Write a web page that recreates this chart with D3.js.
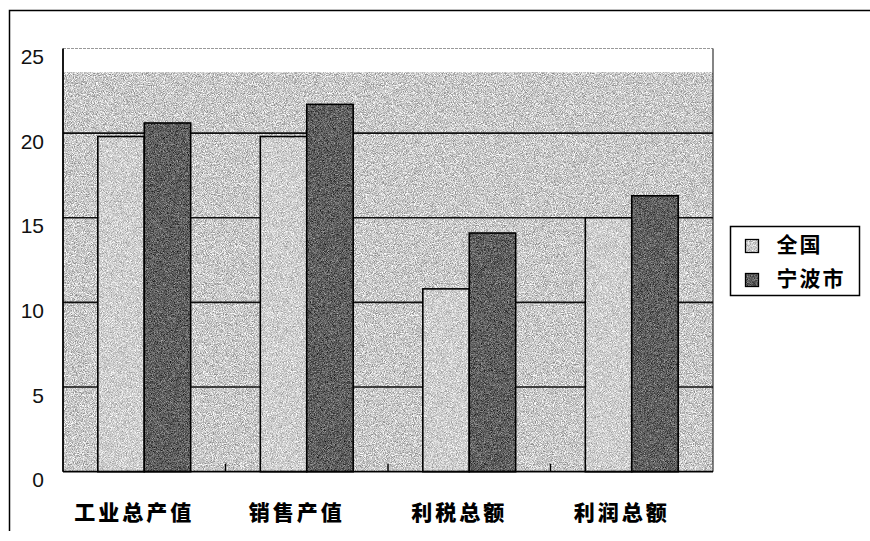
<!DOCTYPE html>
<html>
<head>
<meta charset="utf-8">
<script src="https://cdn.jsdelivr.net/npm/d3@7"></script>
<style>
  html, body { margin: 0; padding: 0; background: #fff; }
  svg { display: block; }
</style>
</head>
<body>
<svg id="chart" width="870" height="541"></svg>
<script>
// Data
const categories = ["工业总产值", "销售产值", "利税总额", "利润总额"];
const seriesNames = ["全国", "宁波市"];
const quanguo = [19.8, 19.8, 10.8, 15.0];
const ningbo = [20.6, 21.7, 14.1, 16.3];
const yTicks = [0, 5, 10, 15, 20, 25];

const seriesValues = [quanguo, ningbo];
const seriesFill = ["#cacaca", "#585858"];

const svg = d3.select("#chart");
const plot = { left: 63, right: 713, top: 48.5, bottom: 471.7 };

// Grain filter: fine fractal noise blended over the flat grey fills
const defs = svg.append("defs");
function grain(id, freq, slope, seed) {
  const f = defs.append("filter").attr("id", id)
    .attr("x", 0).attr("y", 0).attr("width", 1).attr("height", 1)
    .attr("color-interpolation-filters", "sRGB");
  f.append("feTurbulence").attr("type", "fractalNoise")
    .attr("baseFrequency", freq).attr("numOctaves", 3).attr("seed", seed).attr("result", "noise");
  f.append("feColorMatrix").attr("in", "noise").attr("type", "saturate").attr("values", 0).attr("result", "gray");
  const ct = f.append("feComponentTransfer").attr("in", "gray").attr("result", "contrast");
  ["feFuncR", "feFuncG", "feFuncB"].forEach(fn =>
    ct.append(fn).attr("type", "linear").attr("slope", slope).attr("intercept", -(slope - 1) / 2 + 0.04));
  ct.append("feFuncA").attr("type", "table").attr("tableValues", "1 1");
  f.append("feBlend").attr("in", "contrast").attr("in2", "SourceGraphic").attr("mode", "overlay").attr("result", "blend");
  f.append("feComposite").attr("in", "blend").attr("in2", "SourceGraphic").attr("operator", "in");
}
grain("grainBg", 1.1, 2.6, 4);
grain("grainBar", 1.2, 2.2, 9);
grain("grainDark", 1.3, 1.6, 12);

// Scales
const x = d3.scaleBand().domain(categories).range([plot.left, plot.right]).paddingInner(0).paddingOuter(0);
const xs = d3.scaleBand().domain(seriesNames).range([0, x.bandwidth()]).paddingInner(0).paddingOuter(0.75);
const y = d3.scaleLinear().domain([0, 25]).range([plot.bottom, plot.top]);

// Outer chart frame (left and top edges)
svg.append("path")
  .attr("d", `M9.5,531 L9.5,10.5 L870,10.5`)
  .attr("fill", "none").attr("stroke", "#000").attr("stroke-width", 1.5);

// Plot area background
svg.append("rect")
  .attr("x", plot.left).attr("y", plot.top)
  .attr("width", plot.right - plot.left).attr("height", plot.bottom - plot.top)
  .attr("fill", "#fff");
svg.append("rect")
  .attr("x", plot.left).attr("y", plot.top + 24)
  .attr("width", plot.right - plot.left).attr("height", plot.bottom - plot.top - 24)
  .attr("fill", "#c4c4c4").attr("filter", "url(#grainBg)");

// Plot border: faint top, solid right
svg.append("line")
  .attr("x1", plot.left).attr("x2", plot.right).attr("y1", plot.top).attr("y2", plot.top)
  .attr("stroke", "#999").attr("stroke-width", 1).attr("stroke-dasharray", "3,1");
svg.append("line")
  .attr("x1", plot.right).attr("x2", plot.right).attr("y1", plot.top).attr("y2", plot.bottom)
  .attr("stroke", "#333").attr("stroke-width", 1.2);

// Gridlines
svg.append("g").selectAll("line")
  .data(yTicks.filter(t => t > 0 && t < 25))
  .join("line")
  .attr("x1", plot.left).attr("x2", plot.right)
  .attr("y1", d => y(d)).attr("y2", d => y(d))
  .attr("stroke", "#111").attr("stroke-width", 1.6);

// Bars
const fills = ["grainBar", "grainDark"];
seriesNames.forEach((name, si) => {
  const rows = categories.map((c, i) => ({ c, v: seriesValues[si][i] }));
  svg.append("g").selectAll("rect")
    .data(rows)
    .join("rect")
    .attr("x", d => x(d.c) + xs(name))
    .attr("y", d => y(d.v))
    .attr("width", xs.bandwidth())
    .attr("height", d => y(0) - y(d.v))
    .attr("fill", seriesFill[si])
    .attr("filter", `url(#${fills[si]})`);
  svg.append("g").selectAll("rect")
    .data(rows)
    .join("rect")
    .attr("x", d => x(d.c) + xs(name))
    .attr("y", d => y(d.v))
    .attr("width", xs.bandwidth())
    .attr("height", d => y(0) - y(d.v))
    .attr("fill", "none")
    .attr("stroke", "#000").attr("stroke-width", 1.6);
});

// Left axis line and baseline
svg.append("line")
  .attr("x1", plot.left).attr("x2", plot.left).attr("y1", plot.top).attr("y2", plot.bottom)
  .attr("stroke", "#000").attr("stroke-width", 1.8);
svg.append("line")
  .attr("x1", plot.left).attr("x2", plot.right).attr("y1", plot.bottom).attr("y2", plot.bottom)
  .attr("stroke", "#000").attr("stroke-width", 1.8);

// Category separator ticks on the baseline
svg.append("g").selectAll("line")
  .data(categories.slice(1))
  .join("line")
  .attr("x1", d => x(d)).attr("x2", d => x(d))
  .attr("y1", plot.bottom).attr("y2", plot.bottom - 8)
  .attr("stroke", "#000").attr("stroke-width", 1.4);

// Y tick labels
svg.append("g").selectAll("text")
  .data(yTicks)
  .join("text")
  .attr("x", 44)
  .attr("y", d => y(d) + 10)
  .attr("text-anchor", "end")
  .attr("dominant-baseline", "middle")
  .attr("font-family", "'Liberation Sans', Arial, sans-serif")
  .attr("font-size", 21)
  .attr("fill", "#111")
  .text(d => d);

// Category labels
svg.append("g").selectAll("text")
  .data(categories)
  .join("text")
  .attr("x", d => x(d) + x.bandwidth() / 2 - 10)
  .attr("y", 514)
  .attr("text-anchor", "middle")
  .attr("dominant-baseline", "middle")
  .attr("font-family", "'Noto Sans CJK SC', sans-serif")
  .attr("font-weight", 900)
  .attr("font-size", 21)
  .attr("letter-spacing", 3)
  .attr("fill", "#000")
  .text(d => d);

// Legend
const lg = svg.append("g").attr("transform", "translate(730.5,226.5)");
lg.append("rect").attr("width", 129).attr("height", 69)
  .attr("fill", "#fff").attr("stroke", "#000").attr("stroke-width", 1.5);
const ly = d3.scalePoint().domain(seriesNames).range([20, 54]);
seriesNames.forEach((name, si) => {
  lg.append("rect")
    .attr("x", 15).attr("y", ly(name) - 7).attr("width", 13).attr("height", 13)
    .attr("fill", seriesFill[si]).attr("filter", `url(#${fills[si]})`);
  lg.append("rect")
    .attr("x", 15).attr("y", ly(name) - 7).attr("width", 13).attr("height", 13)
    .attr("fill", "none").attr("stroke", "#000").attr("stroke-width", 1.3);
  lg.append("text")
    .attr("x", 46).attr("y", ly(name))
    .attr("dominant-baseline", "middle")
    .attr("font-family", "'Noto Sans CJK SC', sans-serif")
    .attr("font-weight", 700)
    .attr("font-size", 21)
    .attr("letter-spacing", 2)
    .attr("fill", "#000")
    .text(name);
});
</script>
</body>
</html>
